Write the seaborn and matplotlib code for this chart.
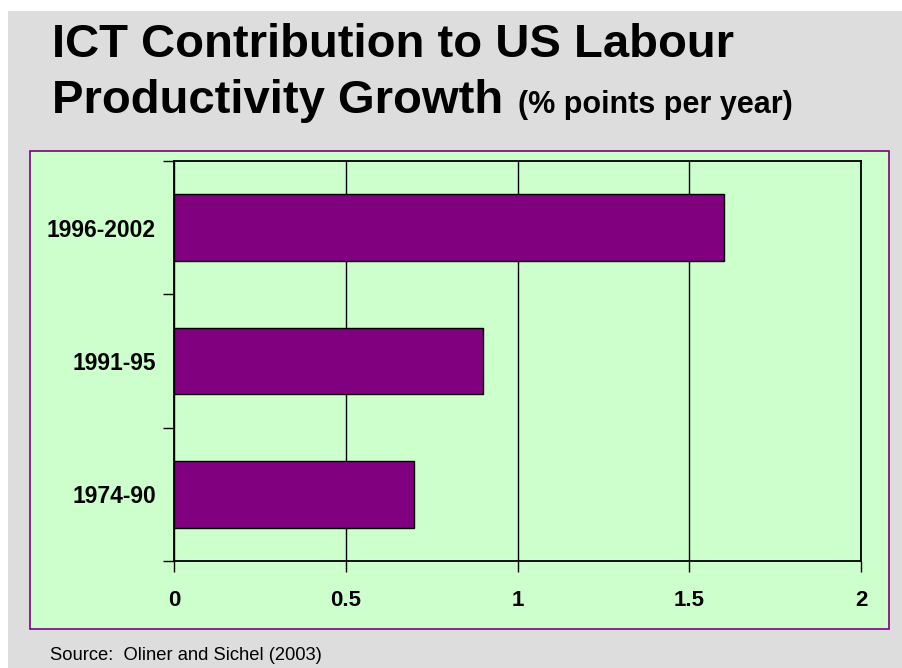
import matplotlib
matplotlib.use("Agg")
import matplotlib.pyplot as plt
import pandas as pd
import seaborn as sns
from matplotlib.patches import Rectangle

periods = ["1996-2002", "1991-95", "1974-90"]
contribution = [1.6, 0.9, 0.7]
x_ticks = [0, 0.5, 1, 1.5, 2]
x_tick_labels = ["0", "0.5", "1", "1.5", "2"]

title_line1 = "ICT Contribution to US Labour"
title_line2 = "Productivity Growth"
title_units = "(% points per year)"
source_note = "Source:  Oliner and Sichel (2003)"

sns.set_theme(style="white")
plt.rcParams["font.family"] = ["Liberation Sans", "DejaVu Sans"]

W, H = 902, 668
fig = plt.figure(figsize=(W / 100, H / 100), dpi=100, facecolor="white")


def px_rect(x0, y0, x1, y1):
    # pixel box (top-left origin) -> figure fraction [left, bottom, width, height]
    return [x0 / W, 1 - y1 / H, (x1 - x0) / W, (y1 - y0) / H]


# slide background and chart panel, kept under the axes
bg = px_rect(8, 11, W, H)
fig.patches.append(Rectangle((bg[0], bg[1]), bg[2], bg[3], transform=fig.transFigure,
                             facecolor="#dddddd", edgecolor="none", zorder=-2))
pn = px_rect(30, 151, 889, 629)
fig.patches.append(Rectangle((pn[0], pn[1]), pn[2], pn[3], transform=fig.transFigure,
                             facecolor="#ccffcc", edgecolor="#800080", linewidth=1.2, zorder=-1))

ax = fig.add_axes(px_rect(174, 161, 861, 561))
ax.set_zorder(1)
ax.set_facecolor("#ccffcc")

frame = pd.DataFrame({"period": periods, "value": contribution})
sns.barplot(data=frame, x="value", y="period", orient="h", color="#800080",
            saturation=1, width=0.5, edgecolor="black", linewidth=1, ax=ax, zorder=3)

ax.set_xlim(0, 2)
ax.set_ylim(2.5, -0.5)
ax.set_xticks(x_ticks)
ax.set_xticklabels(x_tick_labels, fontsize=16, fontweight="bold", color="black")
ax.set_xlabel("")
ax.set_ylabel("")
for lbl in ax.get_yticklabels():
    lbl.set_fontsize(16.5)
    lbl.set_fontweight("bold")
    lbl.set_color("black")

ax.xaxis.grid(True, color="black", linewidth=1)
ax.set_axisbelow(True)
ax.tick_params(axis="x", which="major", direction="out", length=8, width=1,
               color="black", pad=13, bottom=True)
ax.tick_params(axis="y", which="major", length=0, pad=13, left=True)
ax.set_yticks([-0.5, 0.5, 1.5, 2.5], minor=True)
ax.tick_params(axis="y", which="minor", direction="out", length=8, width=1,
               color="black", left=True)
for side in ["left", "bottom", "top", "right"]:
    ax.spines[side].set_visible(True)
    ax.spines[side].set_color("black")
    ax.spines[side].set_linewidth(1.3)

# titles
fig.text(52 / W, 1 - 57 / H, title_line1, fontsize=34, fontweight="bold",
         ha="left", va="baseline", color="black")
fig.text(52 / W, 1 - 113 / H, title_line2, fontsize=34, fontweight="bold",
         ha="left", va="baseline", color="black")
fig.text(518 / W, 1 - 113 / H, title_units, fontsize=22, fontweight="bold",
         ha="left", va="baseline", color="black")
fig.text(50 / W, 1 - 660 / H, source_note, fontsize=13.2,
         ha="left", va="baseline", color="black")

fig.savefig("out.png", dpi=100, facecolor=fig.get_facecolor())
